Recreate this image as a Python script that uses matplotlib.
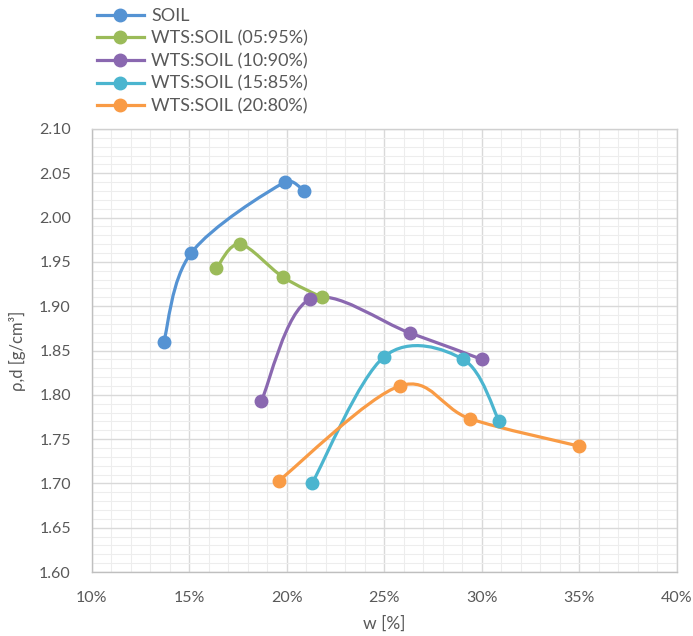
import numpy as np
import matplotlib
matplotlib.use("Agg")
import matplotlib.pyplot as plt
from matplotlib.path import Path
from matplotlib.patches import PathPatch
from matplotlib.lines import Line2D
from matplotlib.ticker import MultipleLocator, FuncFormatter

plt.rcParams['font.family'] = ['Lato', 'DejaVu Sans']

labels = ["SOIL", "WTS:SOIL (05:95%)", "WTS:SOIL (10:90%)",
          "WTS:SOIL (15:85%)", "WTS:SOIL (20:80%)"]
colors = ["#5593D3", "#9BBB59", "#8A68B0", "#4BB5CF", "#F99B45"]

soil_w = [13.7, 15.1, 19.9, 20.9]
soil_rho = [1.86, 1.96, 2.04, 2.03]
s05_w = [16.4, 17.6, 19.8, 21.8]
s05_rho = [1.943, 1.970, 1.933, 1.910]
s10_w = [18.7, 21.2, 26.3, 30.0]
s10_rho = [1.793, 1.908, 1.870, 1.840]
s15_w = [21.3, 25.0, 29.05, 30.9]
s15_rho = [1.700, 1.843, 1.840, 1.770]
s20_w = [19.6, 25.8, 29.4, 35.0]
s20_rho = [1.703, 1.810, 1.773, 1.742]

series_w = [soil_w, s05_w, s10_w, s15_w, s20_w]
series_rho = [soil_rho, s05_rho, s10_rho, s15_rho, s20_rho]

xlim = (10, 40)
ylim = (1.60, 2.10)

W, H = 693, 636
fig = plt.figure(figsize=(W / 100, H / 100), dpi=100)
L, R, T, B = 91.7, 676.7, 129, 572
ax = fig.add_axes([L / W, 1 - B / H, (R - L) / W, (B - T) / H])
ax.set_xlim(*xlim)
ax.set_ylim(*ylim)

# pixel scale for smoothing in screen space
sx = (R - L) / (xlim[1] - xlim[0])
sy = (B - T) / (ylim[1] - ylim[0])


def _cap(v, maxlen):
    n = np.hypot(*v)
    if n > maxlen and n > 0:
        return v * (maxlen / n)
    return v


def smooth_path(xs, ys, cap=0.45):
    P = np.column_stack([np.array(xs) * sx, np.array(ys) * sy])
    n = len(P)
    verts = [P[0]]
    codes = [Path.MOVETO]
    for i in range(n - 1):
        p0 = P[i - 1] if i > 0 else P[i]
        p1 = P[i]
        p2 = P[i + 1]
        p3 = P[i + 2] if i + 2 < n else P[i + 1]
        seg = np.hypot(*(p2 - p1))
        c1 = p1 + _cap((p2 - p0) / 6.0, cap * seg)
        c2 = p2 - _cap((p3 - p1) / 6.0, cap * seg)
        verts += [c1, c2, p2]
        codes += [Path.CURVE4] * 3
    V = np.array(verts)
    V[:, 0] /= sx
    V[:, 1] /= sy
    return Path(V, codes)


for w, r, c in zip(series_w, series_rho, colors):
    patch = PathPatch(smooth_path(w, r), facecolor='none', edgecolor=c,
                      lw=2.3, capstyle='round', zorder=3)
    ax.add_patch(patch)
    ax.plot(w, r, 'o', color=c, ms=9, zorder=4, mec=c)

ax.xaxis.set_major_locator(MultipleLocator(5))
ax.xaxis.set_minor_locator(MultipleLocator(1))
ax.yaxis.set_major_locator(MultipleLocator(0.05))
ax.yaxis.set_minor_locator(MultipleLocator(0.01))
ax.xaxis.set_major_formatter(FuncFormatter(lambda v, p: f"{v:.0f}%"))
ax.yaxis.set_major_formatter(FuncFormatter(lambda v, p: f"{v:.2f}"))
ax.grid(which='major', color='#D9D9D9', lw=1.0, zorder=0)
ax.grid(which='minor', color='#EDEDED', lw=0.8, zorder=0)
ax.set_axisbelow(True)
for s in ax.spines.values():
    s.set_color('#D0D0D0')
    s.set_linewidth(1.0)
ax.spines['left'].set_color('#BFBFBF')
ax.spines['bottom'].set_color('#BFBFBF')

txt = '#595959'
ax.tick_params(which='both', length=0, colors=txt, labelsize=11.5)
ax.tick_params(axis='x', pad=14)
ax.tick_params(axis='y', pad=15)
ax.set_xlabel("w [%]", color=txt, fontsize=12.5, labelpad=7)
ax.set_ylabel("ρ,d [g/cm³]", color=txt, fontsize=12, labelpad=9)

handles = [Line2D([], [], color=c, lw=2.3, marker='o', ms=9) for c in colors]
fig.legend(handles, labels, loc='upper left',
           bbox_to_anchor=(97 / W, 1 - 8 / H), frameon=False,
           fontsize=13, handlelength=2.6, handletextpad=0.4,
           labelspacing=0.36, labelcolor=txt, borderaxespad=0,
           borderpad=0)

fig.savefig("out.png", dpi=100, facecolor='white')
